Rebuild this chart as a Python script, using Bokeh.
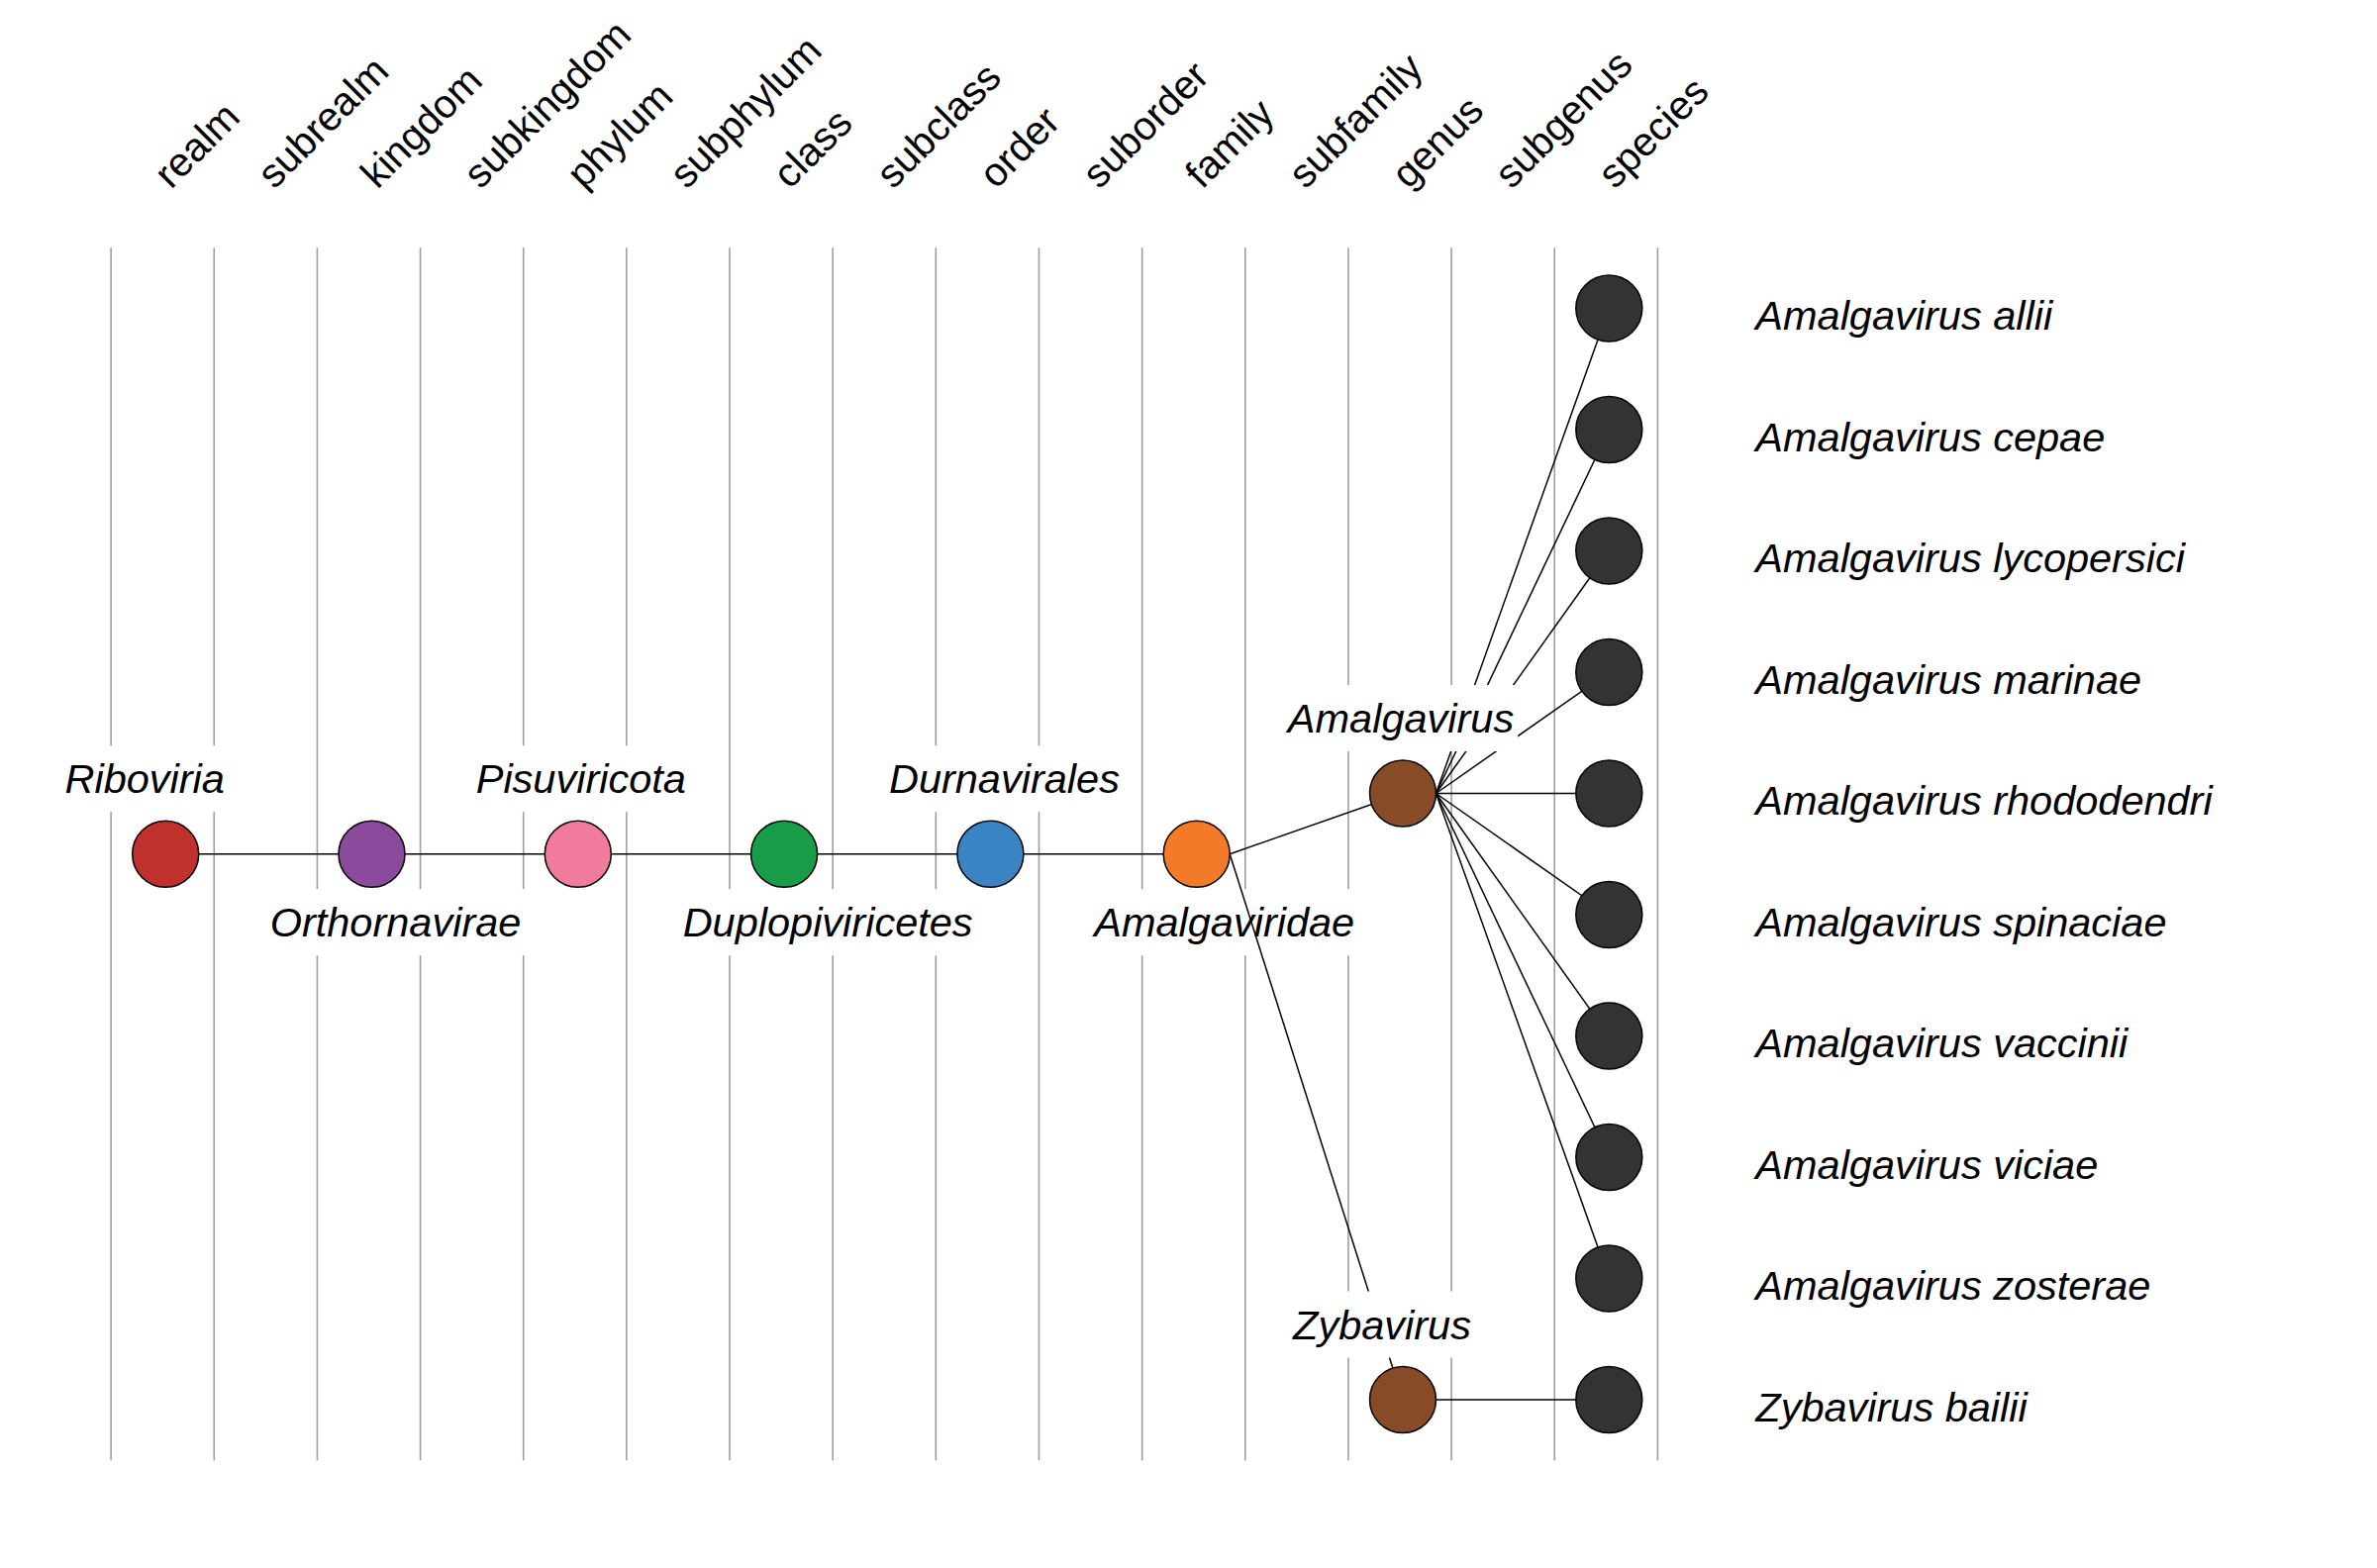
import numpy as np
from bokeh.plotting import figure
from bokeh.models import Range1d, ColumnDataSource
from bokeh.core.properties import value
from bokeh.embed import file_html
from bokeh.resources import INLINE

# ---------------- data ----------------
ranks = ["realm", "subrealm", "kingdom", "subkingdom", "phylum", "subphylum",
         "class", "subclass", "order", "suborder", "family", "subfamily",
         "genus", "subgenus", "species"]

taxa = ["Riboviria", "Orthornavirae", "Pisuviricota", "Duplopiviricetes",
        "Durnavirales", "Amalgaviridae", "Amalgavirus", "Zybavirus"]
taxa_rank = ["realm", "kingdom", "phylum", "class", "order", "family",
             "genus", "genus"]
taxa_parent = [None, "Riboviria", "Orthornavirae", "Pisuviricota",
               "Duplopiviricetes", "Durnavirales", "Amalgaviridae",
               "Amalgaviridae"]

species = ["Amalgavirus allii", "Amalgavirus cepae", "Amalgavirus lycopersici",
           "Amalgavirus marinae", "Amalgavirus rhododendri",
           "Amalgavirus spinaciae", "Amalgavirus vaccinii", "Amalgavirus viciae",
           "Amalgavirus zosterae", "Zybavirus bailii"]
species_parent = ["Amalgavirus"] * 9 + ["Zybavirus"]

# ---------------- styles / layout ----------------
rank_colors = {"realm": "#c0312e", "kingdom": "#8b4a9b", "phylum": "#f07b9c",
               "class": "#189c48", "order": "#3b84c3", "family": "#f27a28",
               "genus": "#874b28", "species": "#333333"}
# label offsets in screen px (dx, dy of text centre from node centre)
label_offsets = {"Riboviria": (-21, -76), "Orthornavirae": (24, 69),
                 "Pisuviricota": (3, -76), "Duplopiviricetes": (44, 69),
                 "Durnavirales": (14, -76), "Amalgaviridae": (28, 69),
                 "Amalgavirus": (-2, -76), "Zybavirus": (-21, -76)}
FONT = "Liberation Sans"
FS = "41.5px"
W, H = 2383, 1566
SX, SY = 104.15, 122.5        # px per data unit
R_PX = 33.5                   # node radius px
GRID_SHIFT_PX = -3.0          # grid lines sit slightly left of column centres
X_FIRST_PX, Y_FIRST_PX = 166.7, 311.0   # page px of first column / first row
ORIGIN_X, ORIGIN_Y = 0, 0

# ---------------- tree geometry ----------------
names = taxa + species
rank_of = dict(zip(names, taxa_rank + ["species"] * len(species)))
parent_of = dict(zip(names, taxa_parent + species_parent))
children = {n: [c for c in names if parent_of[c] == n] for n in names}
leaf_index = {s: i for i, s in enumerate(species)}


def leaves(n):
    if not children[n]:
        return [n]
    out = []
    for c in children[n]:
        out += leaves(c)
    return out


xpos = {n: ranks.index(rank_of[n]) for n in names}
ypos = {n: float(np.mean([leaf_index[l] for l in leaves(n)])) for n in names}

x0r = -(X_FIRST_PX - ORIGIN_X) / SX
y0r = -(Y_FIRST_PX - ORIGIN_Y) / SY
p = figure(width=W, height=H, output_backend="svg", toolbar_location=None,
           x_axis_type=None, y_axis_type=None, min_border=0,
           x_range=Range1d(x0r, x0r + W / SX),
           y_range=Range1d(y0r + H / SY, y0r))
p.outline_line_color = None
p.background_fill_color = "white"
p.border_fill_color = "white"

# grid lines (column boundaries)
gx = np.arange(len(ranks) + 1) - 0.5 + GRID_SHIFT_PX / SX
p.segment(x0=gx, y0=-0.5, x1=gx, y1=len(species) - 0.5,
          line_color="#9e9e9e", line_width=1.6)

# rank headers
p.text(x=list(range(len(ranks))), y=[-0.5] * len(ranks), text=ranks,
       angle=np.pi / 4, text_align="left", text_baseline="bottom",
       x_offset=12, y_offset=-52, text_font=value(FONT),
       text_font_size="40.5px", text_color="black")


def label_src(sel):
    return ColumnDataSource(dict(
        x=[xpos[n] for n in sel], y=[ypos[n] for n in sel], text=sel,
        dx=[label_offsets[n][0] for n in sel],
        dy=[label_offsets[n][1] for n in sel]))


upper = [n for n in taxa if rank_of[n] != "genus"]
genus = [n for n in taxa if rank_of[n] == "genus"]

lbl_kw = dict(x="x", y="y", text="text", x_offset="dx", y_offset="dy",
              text_align="center", text_baseline="middle",
              text_font=value(FONT), text_font_size=FS,
              text_font_style="italic", text_color="black",
              background_fill_color="white", padding=(4, 10))
p.text(source=label_src(upper), **lbl_kw)

# edges
ed = [n for n in names if parent_of[n] is not None]
p.segment(x0=[xpos[parent_of[n]] + R_PX / SX for n in ed],
          y0=[ypos[parent_of[n]] for n in ed],
          x1=[xpos[n] for n in ed], y1=[ypos[n] for n in ed],
          line_color="black", line_width=1.5)

p.text(source=label_src(genus), **lbl_kw)

# nodes
p.scatter(x=[xpos[n] for n in names], y=[ypos[n] for n in names],
          marker="circle", size=2 * R_PX,
          fill_color=[rank_colors[rank_of[n]] for n in names],
          line_color="black", line_width=1.5)

# species labels
p.text(x=[xpos[s] for s in species], y=[ypos[s] for s in species],
       text=species, x_offset=148, y_offset=7, text_align="left",
       text_baseline="middle", text_font=value(FONT), text_font_size=FS,
       text_font_style="italic", text_color="black")

open("out.html", "w").write(file_html(p, INLINE))
